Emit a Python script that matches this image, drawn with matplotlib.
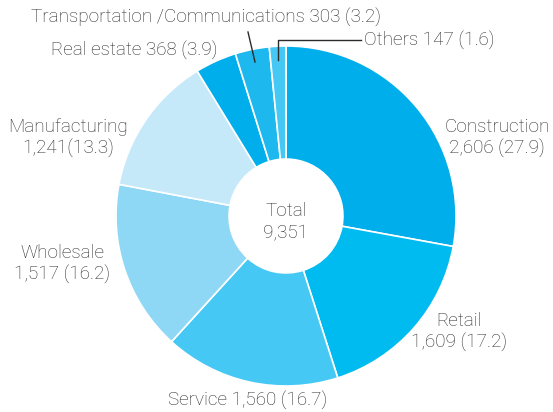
import matplotlib.pyplot as plt

sectors = ['Construction', 'Retail', 'Service', 'Wholesale', 'Manufacturing',
           'Real estate', 'Transportation /Communications', 'Others']
counts = [2606, 1609, 1560, 1517, 1241, 368, 303, 147]
shares = [27.9, 17.2, 16.7, 16.2, 13.3, 3.9, 3.2, 1.6]
total = 9351

colors = ['#00aeeb', '#00bbef', '#45c8f3', '#8ed7f5', '#c6e9f9',
          '#00aeeb', '#1cb8ee', '#45c8f3']

plt.rcParams['font.family'] = ['Roboto', 'DejaVu Sans']
txt = '#2b2b2b'

W, H = 553, 412
fig = plt.figure(figsize=(W / 100, H / 100), dpi=100)
ax = fig.add_axes([0, 0, 1, 1])

cx, cy, r = 286, H - 216, 170
ax.pie(counts, colors=colors, startangle=90, counterclock=False,
       center=(cx, cy), radius=r, frame=True,
       wedgeprops=dict(width=r * 0.665, edgecolor='white', linewidth=1.2))
ax.set_xlim(0, W)
ax.set_ylim(0, H)
ax.set_aspect('equal')
ax.axis('off')

fs = 13.6
kw = dict(fontsize=fs, color=txt, fontweight='light', linespacing=1.25)

ax.text(cx, cy - 6, f'Total\n{total:,}', ha='center', va='center', **kw)


def fmt(i, comma_space=True):
    sep = ' ' if comma_space else ''
    return f'{counts[i]:,}{sep}({shares[i]})'


# label text, positioned in pixel space (y measured from the top)
def label(x, y, s, ha='center'):
    ax.text(x, H - y, s, ha=ha, va='center', **kw)

label(497, 138, f'{sectors[0]}\n{fmt(0)}')
label(459, 332, f'{sectors[1]}\n{fmt(1)}')
label(248, 400, f'{sectors[2]} {fmt(2)}')
label(62, 264, f'{sectors[3]}\n{fmt(3)}')
label(68, 138, f'{sectors[4]}\n{fmt(4, False)}')
label(134, 50, f'{sectors[5]} {fmt(5)}')
label(206, 17, f'{sectors[6]} {fmt(6)}')
label(364, 40, f'{sectors[7]} {fmt(7)}', ha='left')

# leader lines for the two thin slices
ax.plot([248, 255], [H - 32, H - 62], color=txt, lw=1)
ax.plot([361, 278, 278], [H - 40, H - 40, H - 60], color=txt, lw=1)

fig.savefig('out.png', dpi=100)
